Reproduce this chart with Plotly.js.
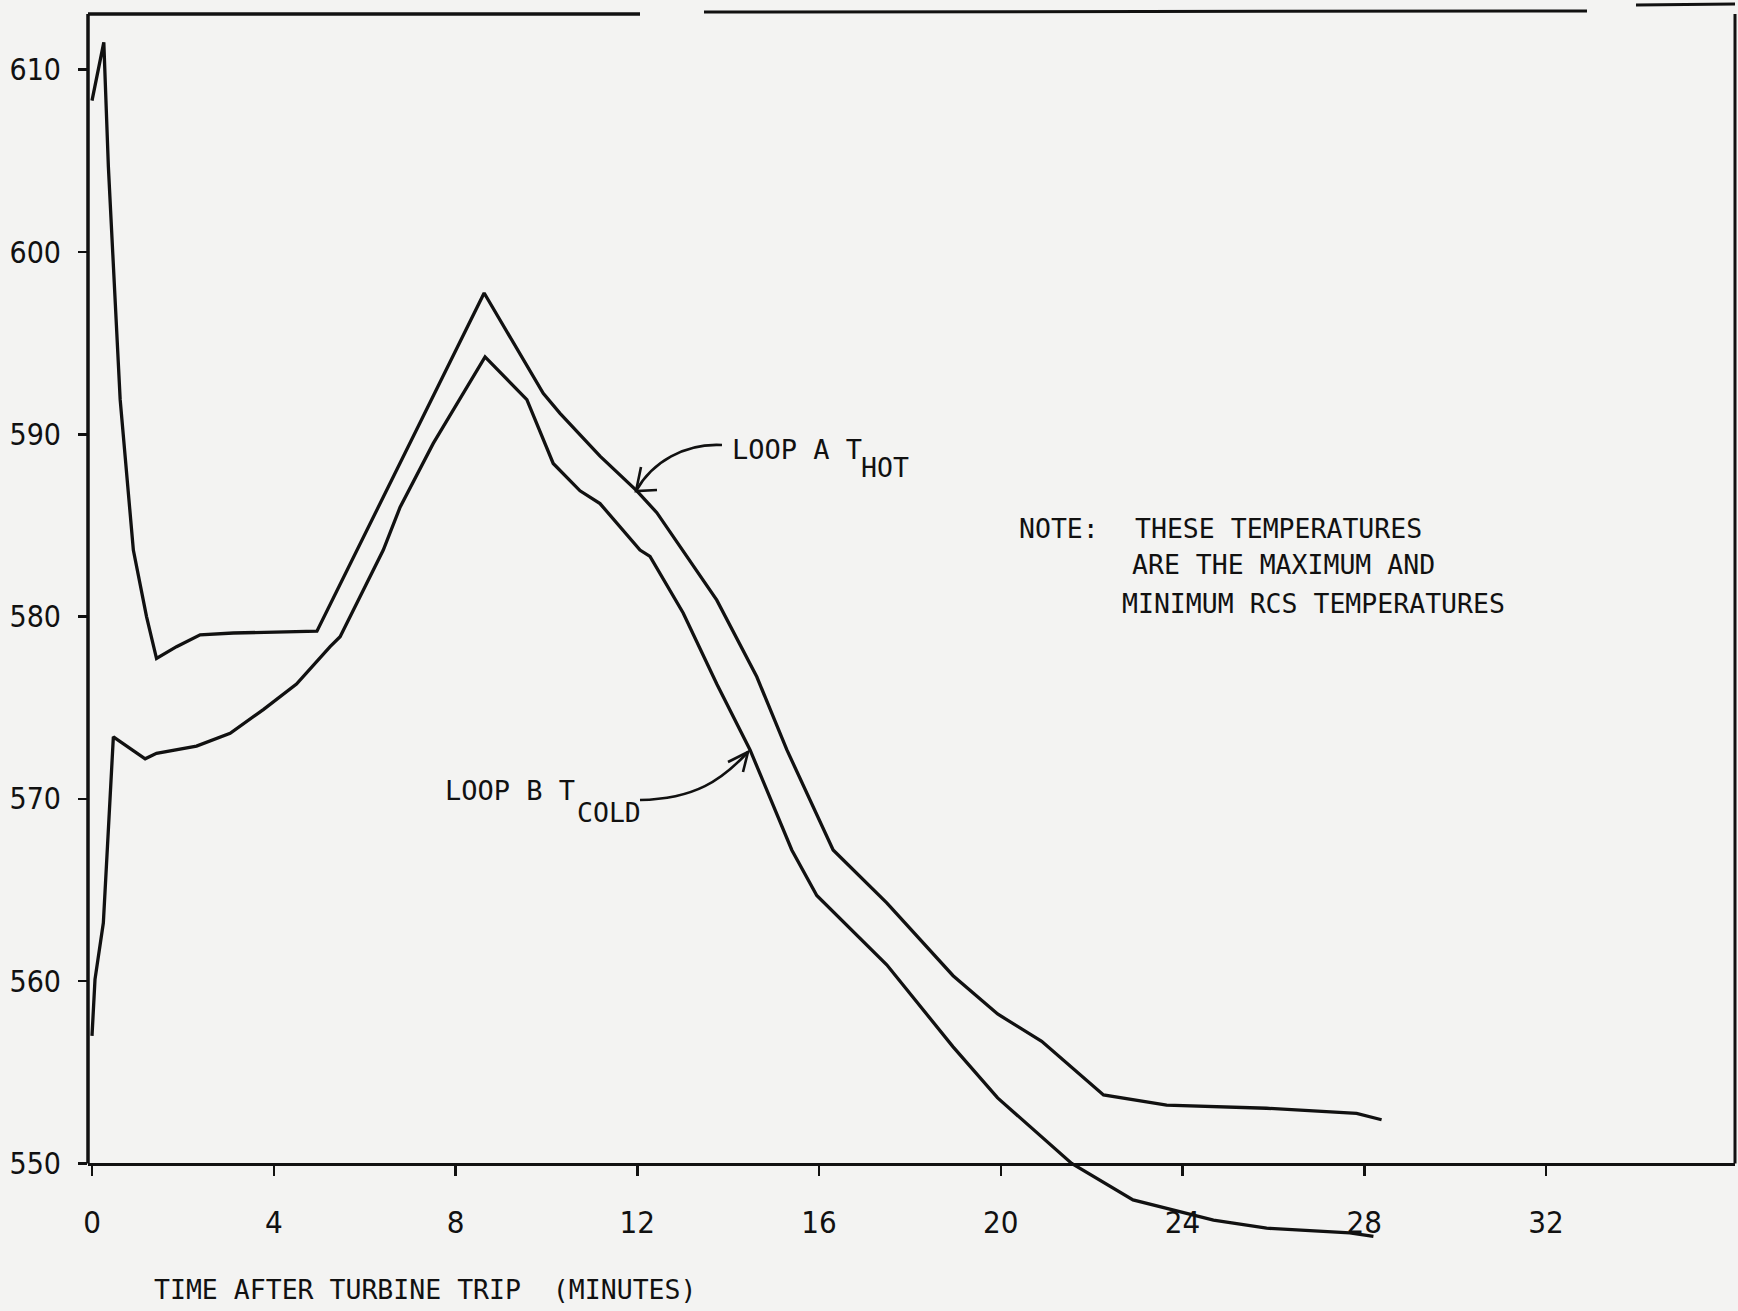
<!DOCTYPE html>
<html>
<head>
<meta charset="utf-8">
<script src="https://cdn.plot.ly/plotly-3.0.1.min.js"></script>
<style>html,body{margin:0;padding:0;background:#f3f3f2;}#chart{width:1738px;height:1311px;}</style>
</head>
<body>
<div id="chart"></div>
<script>
// ---- data ----
const timeHot = [0, 0.26, 0.36, 0.47, 0.58, 0.62, 0.91, 1.2, 1.42, 1.86, 2.38, 3.11, 4.95, 8.63, 9.93, 10.3, 11.18, 11.99, 12.43, 13.0, 13.75, 14.63, 15.29, 16.31, 17.49, 18.95, 19.93, 20.9, 22.26, 23.65, 25.85, 27.83, 28.38];
const tempHot = [608.3, 611.5, 604.7, 599.2, 593.7, 591.9, 583.65, 580.0, 577.7, 578.35, 579.0, 579.1, 579.2, 597.75, 592.25, 591.15, 588.8, 586.9, 585.7, 583.65, 580.9, 576.7, 572.7, 567.2, 564.3, 560.3, 558.2, 556.7, 553.76, 553.2, 553.03, 552.75, 552.4];

const timeCold = [0, 0.066, 0.25, 0.36, 0.47, 1.17, 1.42, 2.3, 3.04, 3.77, 4.5, 5.24, 5.46, 6.41, 6.78, 7.51, 8.65, 9.57, 10.15, 10.74, 11.18, 12.06, 12.28, 13.01, 13.75, 14.48, 15.4, 15.95, 17.49, 18.95, 19.93, 21.56, 22.91, 24.68, 25.85, 27.68, 28.2];
const tempCold = [557.0, 560.1, 563.2, 568.3, 573.4, 572.2, 572.5, 572.9, 573.6, 574.9, 576.3, 578.35, 578.9, 583.65, 586.0, 589.5, 594.25, 591.9, 588.4, 586.9, 586.2, 583.65, 583.3, 580.2, 576.3, 572.7, 567.2, 564.7, 560.9, 556.4, 553.6, 550.0, 548.0, 546.9, 546.45, 546.2, 546.0];

const xTickVals = [0, 4, 8, 12, 16, 20, 24, 28, 32];
const xTickText = ["0", "4", "8", "12", "16", "20", "24", "28", "32"];
const yTickVals = [550, 560, 570, 580, 590, 600, 610];
const yTickText = ["550", "560", "570", "580", "590", "600", "610"];

const labelHot = ["LOOP A T", "HOT"];
const labelCold = ["LOOP B T", "COLD"];
const noteLines = ["NOTE:", "THESE TEMPERATURES", "ARE THE MAXIMUM AND", "MINIMUM RCS TEMPERATURES"];
const xTitle = "TIME AFTER TURBINE TRIP\u00A0\u00A0(MINUTES)";

// ---- layout geometry ----
const W = 1738, H = 1311;
const L = 88, R = 1735, T = 14, B = 1273;
const px2t = X => (X - 92) / 45.44;
const py2T = Y => 550 + (1163.5 - Y) / 18.23;
const xRange = [px2t(L), px2t(R)];
const yRange = [py2T(B), py2T(T)];
const px2paper = X => (X - L) / (R - L);
const py2paper = Y => (B - Y) / (B - T);

const ink = '#111111';
const mono = 'DejaVu Sans Mono, monospace';
const narrow = 'Liberation Sans Narrow, DejaVu Sans Condensed, Arial Narrow, sans-serif';

const traces = [
  {x: timeHot, y: tempHot, type: 'scatter', mode: 'lines', name: 'Loop A T hot',
   line: {color: ink, width: 3.3}, hoverinfo: 'skip'},
  {x: timeCold, y: tempCold, type: 'scatter', mode: 'lines', name: 'Loop B T cold',
   line: {color: ink, width: 3.3}, hoverinfo: 'skip'}
];

function ann(text, X, Y, size) {
  return {text: text, x: px2paper(X), y: py2paper(Y), xref: 'paper', yref: 'paper',
          xanchor: 'left', yanchor: 'middle', showarrow: false,
          font: {family: mono, size: size, color: ink}};
}

const annotations = [
  ann(labelHot[0], 730, 449, 27),
  ann(labelHot[1], 859, 467, 26.5),
  ann(labelCold[0], 443, 790, 27),
  ann(labelCold[1], 575, 812, 26.5),
  ann(noteLines[0], 1017, 529, 26.5),
  ann(noteLines[1], 1133, 529, 26.5),
  ann(noteLines[2], 1130, 565, 26.5),
  ann(noteLines[3], 1120, 603, 26.5),
  ann(xTitle, 152, 1289, 26.5)
];

const P = (X, Y) => px2t(X) + ',' + py2T(Y);
const lineStyle = {color: ink, width: 2.6};
const shapes = [
  // hand drawn frame around the plotting field
  {type: 'line', xref: 'paper', yref: 'y', x0: 0, x1: 0, y0: 550, y1: py2T(13), line: {color: ink, width: 3.5}},
  {type: 'line', xref: 'x', yref: 'paper', x0: px2t(L), x1: px2t(640), y0: py2paper(14), y1: py2paper(14), line: {color: ink, width: 3.5}},
  {type: 'line', xref: 'x', yref: 'paper', x0: px2t(704), x1: px2t(1587), y0: py2paper(12), y1: py2paper(11), line: {color: ink, width: 3}},
  {type: 'line', xref: 'x', yref: 'paper', x0: px2t(1636), x1: px2t(R), y0: py2paper(5), y1: py2paper(4), line: {color: ink, width: 3}},
  {type: 'line', xref: 'paper', yref: 'y', x0: 1, x1: 1, y0: 550, y1: py2T(4), line: {color: ink, width: 3}},
  // leader for LOOP A T_HOT
  {type: 'path', xref: 'x', yref: 'y', line: lineStyle,
   path: 'M ' + P(722, 445) + ' C ' + P(685, 443) + ' ' + P(652, 462) + ' ' + P(636, 491)},
  {type: 'path', xref: 'x', yref: 'y', line: lineStyle,
   path: 'M ' + P(641, 467) + ' L ' + P(636, 491) + ' L ' + P(657, 490)},
  // leader for LOOP B T_COLD
  {type: 'path', xref: 'x', yref: 'y', line: lineStyle,
   path: 'M ' + P(640, 800) + ' C ' + P(695, 799) + ' ' + P(722, 780) + ' ' + P(748, 752)},
  {type: 'path', xref: 'x', yref: 'y', line: lineStyle,
   path: 'M ' + P(728, 762) + ' L ' + P(748, 752) + ' L ' + P(743, 772)}
];

const layout = {
  width: W, height: H,
  margin: {l: L, r: W - R, t: T, b: H - B, pad: 0},
  paper_bgcolor: '#f3f3f2', plot_bgcolor: 'rgba(0,0,0,0)',
  showlegend: false,
  xaxis: {
    range: xRange, anchor: 'free', position: (550 - yRange[0]) / (yRange[1] - yRange[0]),
    showline: true, linecolor: ink, linewidth: 3.5, mirror: false,
    showgrid: false, zeroline: false,
    tickmode: 'array', tickvals: xTickVals, ticktext: xTickText,
    ticks: 'outside', ticklen: 10, tickwidth: 2.5, tickcolor: ink,
    ticklabelstandoff: 20,
    tickfont: {family: narrow, size: 31, color: ink}
  },
  yaxis: {
    range: yRange, showline: false, showgrid: false, zeroline: false,
    tickmode: 'array', tickvals: yTickVals, ticktext: yTickText,
    ticks: 'outside', ticklen: 9, tickwidth: 2.5, tickcolor: ink,
    ticklabelstandoff: 11,
    tickfont: {family: narrow, size: 30, color: ink}
  },
  annotations: annotations,
  shapes: shapes
};

Plotly.newPlot('chart', traces, layout, {staticPlot: true, displayModeBar: false});
</script>
</body>
</html>
